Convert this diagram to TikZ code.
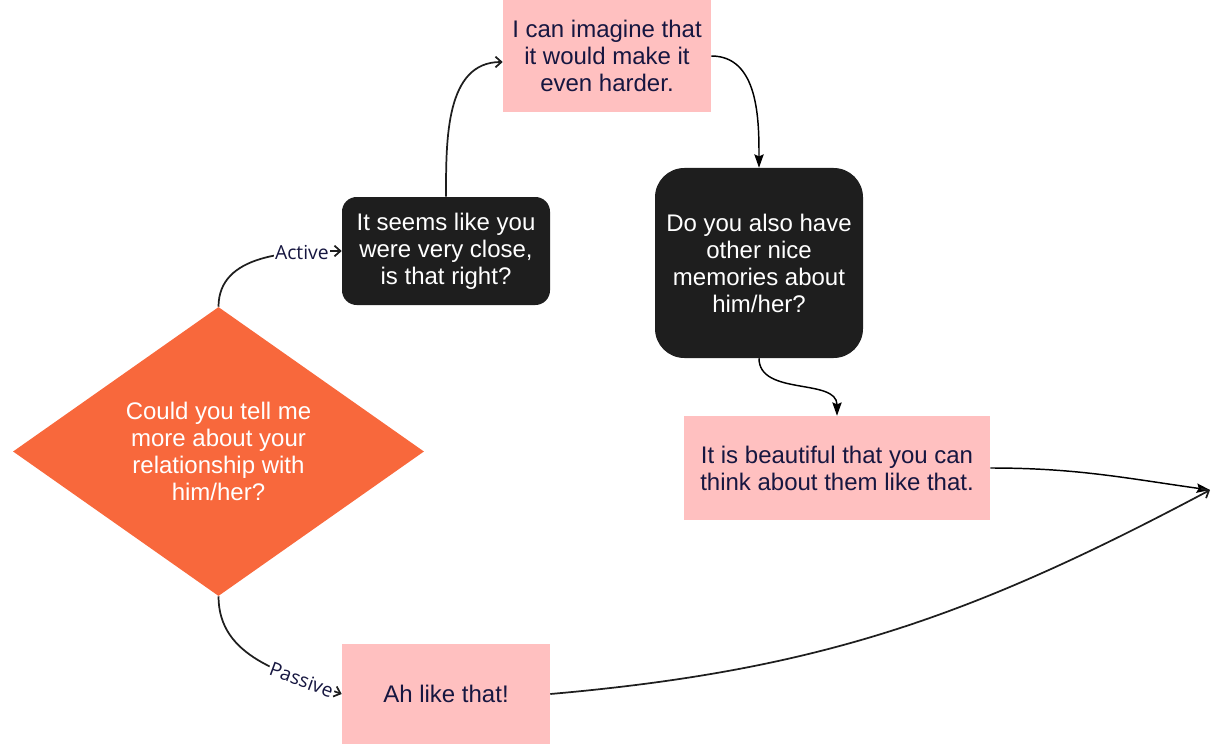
\documentclass[tikz,border=0pt]{standalone}
\usepackage{fontspec}
\setmainfont{Liberation Sans}
\newfontfamily\lblfont{Open Sans}
\usepackage{tikz}
\usetikzlibrary{arrows.meta,positioning,shapes.geometric,calc}
\definecolor{ChatOrange}{HTML}{F8683C}
\definecolor{ChatPink}{HTML}{FFC0C0}
\definecolor{ChatDark}{HTML}{1E1E1E}
\definecolor{ChatNavy}{HTML}{161640}

\tikzset{
  pinkbox/.style={rectangle, fill=ChatPink, text=ChatNavy, align=center, inner sep=0pt,
    font=\fontsize{18}{20.25}\selectfont},
  darkbox/.style={rectangle, fill=ChatDark, text=white, align=center, inner sep=0pt,
    font=\fontsize{18}{20.25}\selectfont},
  lbl/.style={fill=white, text=ChatNavy, inner sep=1pt, font=\lblfont\fontsize{14.5}{16}\selectfont},
  openarrow/.style={-{Straight Barb[length=4.5pt,width=8pt]}, line width=1.3pt, ChatDark},
  fillarrow/.style={-{Stealth[length=10pt,width=7pt,inset=1.5pt]}, line width=1.1pt, black}
}

\begin{document}
\begin{tikzpicture}[x=0.75pt, y=0.75pt]
% Canvas
\useasboundingbox (0,0) rectangle (1212,744);

% Question diamond
\node[diamond, fill=ChatOrange, text=white, align=center, inner sep=0pt, aspect=1.42,
  minimum width=308.25pt, minimum height=216.75pt,
  font=\fontsize{18}{20.25}\selectfont] (ask) at (218.5,292.5)
  {Could you tell me\\more about your\\relationship with\\him/her?};

% Dark (question) boxes
\node[darkbox, rounded corners=11pt, minimum width=156pt, minimum height=81pt] (close) at (446,493)
  {It seems like you\\were very close,\\is that right?};
\node[darkbox, rounded corners=22pt, minimum width=156pt, minimum height=142.5pt] (memories) at (759,481)
  {Do you also have\\other nice\\memories about\\him/her?};

% Pink (reply) boxes
\node[pinkbox, minimum width=156pt, minimum height=84pt] (harder) at (607,688)
  {I can imagine that\\it would make it\\even harder.};
\node[pinkbox, minimum width=229.5pt, minimum height=78pt] (beautiful) at (837,276)
  {It is beautiful that you can\\think about them like that.};
\node[pinkbox, minimum width=156pt, minimum height=75pt] (likethat) at (446,50)
  {Ah like that!};

% Free end on the right
\coordinate (done) at (1210,254);

% Connectors
\draw[openarrow] (ask.north) to[out=90,in=180] node[lbl, pos=0.76] {Active} (close.west);
\draw[openarrow] (ask.south) to[out=-90,in=160] node[lbl, pos=0.77, sloped] {Passive} (likethat.west);
\draw[openarrow] (close.north) to[out=90,in=180] ([yshift=-4.5pt]harder.west);
\draw[fillarrow] (harder.east) to[out=0,in=90] (memories.north);
\draw[fillarrow] (memories.south) to[out=-90,in=90] (beautiful.north);
\draw[fillarrow] (beautiful.east) to[out=0,in=172] (done);
\draw[openarrow] (likethat.east) to[out=5,in=208] (done);

\end{tikzpicture}
\end{document}
